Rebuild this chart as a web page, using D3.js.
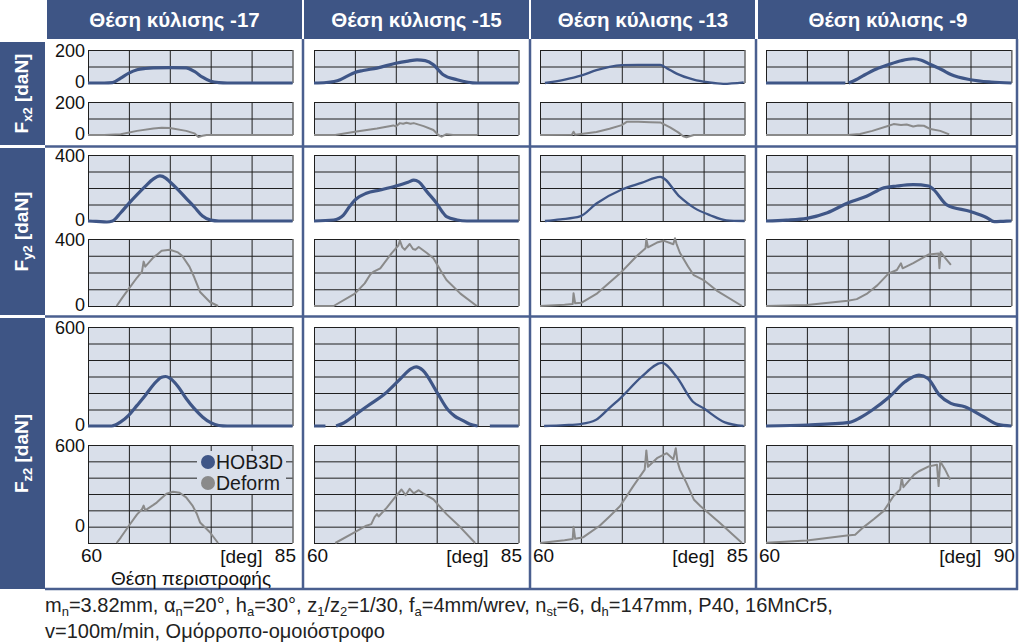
<!DOCTYPE html>
<html>
<head>
<meta charset="utf-8">
<script src="https://cdn.jsdelivr.net/npm/d3@7"></script>
<style>
  body { margin: 0; background: #fff; }
  svg { display: block; font-family: "Liberation Sans", Arial, sans-serif; }
</style>
</head>
<body>
<svg id="chart" width="1023" height="643"></svg>
<script>
// column / row labels
const columnTitles = ["Θέση κύλισης -17", "Θέση κύλισης -15", "Θέση κύλισης -13", "Θέση κύλισης -9"];
const xEnd = [85, 85, 85, 90];            // rotation angle range ends at, deg (all start at 60)
const forceNames = ["x2", "y2", "z2"];
const topDomains = [[0, 200], [0, 400], [0, 600]];       // HOB3D panels
const bottomDomains = [[0, 200], [0, 400], [-120, 600]]; // Deform panels
const topSteps = [100, 100, 100];
const bottomSteps = [100, 100, 120];
const legendNames = ["HOB3D", "Deform"];

// [deg, daN]; null = gap in the curve
const hobFx = [
  [[60,0],[62,0],[63,2],[64,30],[65,60],[66,80],[67,88],[68,92],[70,93],[72,92],[73,70],[74,35],[75,10],[76,2],[77,0],[85,0]],
  [[60,0],[61.5,3],[63.2,20],[64,40],[65,64],[66,76],[67.7,90],[70,120],[71.5,133],[72.6,140],[73.6,136],[74.6,110],[75.2,80],[75.8,50],[77.5,20],[79.9,0],[85,0]],
  [[60.6,0],[62.9,19],[65.1,46],[66.9,78],[68.5,98],[70,108],[72,110],[74.7,110],[75.5,90],[76.7,57],[78.8,21],[80.5,5],[82.4,-5],[84.9,4]],
  [[60,0],[69.7,0],null,[70.1,0],[71,20],[71.9,45],[73.5,85],[75,112],[76.5,135],[78,147],[79,138],[80.1,112],[81.5,80],[82.6,51],[85,20],[87.5,6],[90,0]]
];
const defFx = [
  [[60,0],[62,0],[64,5],[66,25],[68,40],[69,44],[70,42],[72,25],[73,10],[73.5,-12],[74,-5],[74.5,0],[85,0]],
  [[60,0],[62.6,0],[65,20],[67.7,40],[69.7,58],[70,52],[70.5,72],[70.9,68],[71.3,74],[71.8,68],[72.2,72],[73.4,54],[74.6,30],[75.2,0],[75.6,-10],[76.2,5],[77,0],[80,0]],
  [[60,0],[63.9,2],[64.1,20],[64.3,2],[66.9,18],[68.5,38],[70,60],[70.6,80],[72,80],[73.5,78],[74.7,76],[75.9,46],[76.9,16],[77.5,-8],[77.9,-14],[78.8,0],[85,0]],
  [[60,0],[70,0],[71.5,6],[73,25],[75,56],[75.6,66],[76.5,60],[77.2,64],[78,52],[78.6,58],[79.3,56],[80.1,36],[81.3,25],[82.4,4]]
];
const hobFy = [
  [[60,0],[61,-2],[62.3,-6],[63,0],[64,50],[65,107],[66,160],[67,210],[68,255],[68.8,273],[69.5,260],[70,238],[71,190],[72,137],[73,85],[74,30],[75,5],[76,0],[85,0]],
  [[60,0],[62.4,6],[63.6,36],[64.3,85],[65,127],[66.4,168],[68.1,188],[70,212],[71.5,235],[72.2,248],[72.8,238],[73.8,178],[75,107],[75.7,55],[76.2,26],[77.5,6],[78.7,0],[85,0]],
  [[60.6,0],[62.5,10],[64.9,28],[66.9,106],[70,191],[72.4,231],[74.7,268],[77.1,146],[78.8,81],[80.8,35],[82.8,4],[85,0]],
  [[60,0],[62.5,5],[65,16],[67.5,50],[70,109],[72.3,150],[74.4,201],[76,212],[78,220],[79.9,212],[80.5,190],[82.1,98],[85,57],[87,20],[87.9,-4],[89,-2],[90,0]]
];
const defFy = [
  [[63.5,0],[64.2,50],[65,104],[66,170],[66.6,205],[66.8,265],[67,235],[68,290],[68.4,305],[69,330],[70,336],[71,320],[71.5,300],[72.4,235],[73,170],[73.7,84],[74.9,24],[75.9,0]],
  [[60,0],[62.4,0],[65,74],[66.2,135],[66.9,190],[67.3,205],[68.1,225],[69.5,316],[70.3,360],[70.5,390],[70.8,350],[71.1,336],[71.7,370],[72.1,340],[72.4,336],[72.8,352],[73.8,316],[74.6,285],[75.5,210],[76.2,155],[77.9,74],[79.9,0]],
  [[60,0],[63,8],[64,12],[64.1,76],[64.3,16],[65.1,20],[66.9,72],[68.5,140],[70,205],[71.8,297],[72.9,345],[73,400],[73.2,350],[74.3,379],[75.1,390],[76.3,369],[76.5,404],[76.7,370],[77.1,318],[78.1,236],[78.8,184],[80,155],[81.6,92],[84.7,0]],
  [[60,0],[65,6],[70,31],[71.1,41],[72.3,72],[73.6,123],[75,195],[76,215],[76.5,255],[76.7,225],[78,256],[79.9,308],[81.1,314],[81.2,226],[81.35,322],[81.9,287],[82.6,246]]
];
const hobFz = [
  [[60,0],[62.9,0],[64,25],[65,66],[66,125],[67,185],[68,250],[69,296],[69.5,300],[70,290],[71,240],[72,167],[73,105],[74,55],[75,20],[76,3],[77,0],[85,0]],
  [[60,0],[61.4,0],null,[62.7,0],[63.5,15],[65,66],[66.5,120],[68.7,197],[70.4,278],[71.9,348],[72.5,358],[73.3,338],[75,207],[76.4,97],[77.2,60],[78.1,36],[79,12],[80,0],null,[81.5,0],[85,0]],
  [[60.5,0],[63,5],[65,12],[66.8,36],[68.5,110],[70,177],[72.4,298],[74.9,382],[76.7,298],[78.7,147],[80,107],[82.6,22],[84.9,0]],
  [[60,0],[65.1,6],[70.2,22],[71.5,50],[73,97],[75.1,177],[77,268],[78.7,308],[79.8,288],[81.2,187],[82.6,137],[84.3,117],[86.6,56],[88.3,10],[90,0]]
];
const defFz = [
  [[63.5,-120],[64,-80],[65,7],[66,90],[66.6,128],[66.8,155],[67,120],[68,160],[68.4,177],[69,210],[69.6,242],[70.4,256],[71.2,249],[72,215],[72.8,152],[73.3,95],[73.7,31],[74.9,-41],[75.9,-120]],
  [[62.6,-120],[65,-41],[66.4,7],[67,19],[67.4,70],[67.7,92],[67.9,75],[68.9,140],[69.7,200],[70.7,273],[71.2,232],[71.7,278],[72.2,244],[72.8,268],[73.4,242],[74.6,200],[76.2,92],[77.9,-5],[79.7,-120]],
  [[60,-120],[63,-100],[64,-90],[64.1,0],[64.3,-88],[65.3,-77],[67.3,7],[68.5,75],[69.8,152],[71.4,298],[72.8,419],[73,560],[73.2,440],[74.3,503],[75.5,540],[76.3,496],[76.6,576],[76.8,480],[77.1,419],[77.9,322],[78.8,200],[79.6,152],[82,27],[84.7,-120]],
  [[60,-118],[65,-102],[69.9,-65],[70.9,-60],[71.9,-5],[73.2,56],[74.4,116],[75.6,225],[76.4,273],[76.6,358],[76.8,290],[78.1,382],[78.7,407],[79.9,443],[80.9,455],[81.1,298],[81.3,479],[81.9,419],[82.5,346]]
];

const hob = [hobFx, hobFy, hobFz];
const def = [defFx, defFy, defFz];

// layout / style
const blue = "#3e5585";
const panelFill = "#d9dfea";
const hobColor = "#3f5687";
const defColor = "#8a8a8a";
const hobWidth = [3.2, 3.2, 2.3, 3.2];
const colX = [88, 314, 540, 766];
const pxPerDeg = 8.18;
const headerX = [[47, 302], [304, 529], [531, 755], [758, 1018]];
const rowBoxes = [[42, 145], [148, 315], [318, 589]];
const panelY = [[[50, 83], [102, 135]], [[155, 221], [239, 306]], [[327, 426], [445, 543]]];

const svg = d3.select("#chart");

// headers
headerX.forEach(([a, b], i) => {
  svg.append("rect").attr("x", a).attr("y", 0).attr("width", b - a).attr("height", 39).attr("fill", blue);
  svg.append("text").attr("x", (a + b) / 2).attr("y", 27).attr("text-anchor", "middle")
    .attr("fill", "#fff").attr("font-weight", "bold").attr("font-size", 20.5).text(columnTitles[i]);
});

// row labels
rowBoxes.forEach(([a, b], i) => {
  svg.append("rect").attr("x", 0).attr("y", a).attr("width", 45).attr("height", b - a).attr("fill", blue);
  const t = svg.append("text").attr("transform", `translate(28,${(a + b) / 2}) rotate(-90)`)
    .attr("text-anchor", "middle").attr("fill", "#fff").attr("font-weight", "bold").attr("font-size", 19);
  t.append("tspan").text("F");
  t.append("tspan").attr("dy", 4).attr("font-size", 13).text(forceNames[i]);
  t.append("tspan").attr("dy", -4).text(" [daN]");
});

// body borders
const border = svg.append("g").attr("stroke", "#4a5f8f").attr("stroke-width", 2.5);
[303, 530, 756, 1017].forEach(x => border.append("line").attr("x1", x).attr("x2", x).attr("y1", 39).attr("y2", 590));
[146.5, 316.5, 589].forEach(y => border.append("line").attr("x1", 45).attr("x2", 1018).attr("y1", y).attr("y2", y));

function panel(c, r, half) {
  const dom = half === 0 ? topDomains[r] : bottomDomains[r];
  const step = half === 0 ? topSteps[r] : bottomSteps[r];
  const [y0, y1] = panelY[r][half];
  const x0 = colX[c], w = (xEnd[c] - 60) * pxPerDeg;
  const x = d3.scaleLinear().domain([60, xEnd[c]]).range([x0, x0 + w]);
  const y = d3.scaleLinear().domain(dom).range([y1, y0]);
  const g = svg.append("g");

  g.append("rect").attr("x", x0).attr("y", y0).attr("width", w).attr("height", y1 - y0).attr("fill", panelFill);

  const gx = g.append("g").attr("transform", `translate(0,${y1})`)
    .call(d3.axisBottom(x).tickValues(d3.range(60, xEnd[c] + 1, 5)).tickSize(-(y1 - y0)).tickFormat(""));
  const gy = g.append("g").attr("transform", `translate(${x0},0)`)
    .call(d3.axisLeft(y).tickValues(d3.range(dom[0], dom[1] + 1, step)).tickSize(-w).tickFormat(""));
  [gx, gy].forEach(a => {
    a.select(".domain").remove();
    a.selectAll(".tick line").attr("stroke", "#1f1f1f");
  });

  // legend box (first column, bottom of Fz2)
  if (c === 0 && r === 2 && half === 1) {
    g.append("rect").attr("x", 197).attr("y", 451).attr("width", 89).attr("height", 43).attr("fill", panelFill);
    legendNames.forEach((n, i) => {
      g.append("circle").attr("cx", 208).attr("cy", 462 + i * 21).attr("r", 7).attr("fill", i ? defColor : hobColor);
      g.append("text").attr("x", 216).attr("y", 469 + i * 21).attr("font-size", 19.5).attr("fill", "#1a1a1a").text(n);
    });
  }

  const data = (half === 0 ? hob : def)[r][c];
  g.append("path").datum(data)
    .attr("d", d3.line().defined(d => d).x(d => x(d[0])).y(d => y(d[1]))
      .curve(half === 0 ? d3.curveMonotoneX : d3.curveLinear))
    .attr("fill", "none")
    .attr("stroke", half === 0 ? hobColor : defColor)
    .attr("stroke-width", half === 0 ? hobWidth[c] : 2)
    .attr("stroke-linejoin", "round");

  // y tick labels only in the first column
  if (c === 0) {
    const ya = g.append("g").attr("transform", `translate(${x0},0)`)
      .call(d3.axisLeft(y).tickValues([dom[1], 0]).tickSize(0).tickPadding(3));
    ya.select(".domain").remove();
    ya.selectAll("text").attr("font-size", 18).attr("font-family", null).attr("fill", "#111")
      .attr("y", d => (d === 0 ? -1 : 1));
  }

  // x labels under the last panel
  if (r === 2 && half === 1) {
    const xa = g.append("g").attr("transform", `translate(0,${y1})`)
      .call(d3.axisBottom(x).tickValues([60, xEnd[c]]).tickSize(0).tickPadding(6));
    xa.select(".domain").remove();
    xa.selectAll("text").attr("font-size", 19).attr("font-family", null).attr("fill", "#111");
    xa.selectAll(".tick").filter(d => d === 60).select("text").attr("dx", 3);
    xa.selectAll(".tick").filter(d => d !== 60).select("text").attr("text-anchor", "end").attr("dx", 3);
    g.append("text").attr("x", x0 + w - 30).attr("y", y1 + 20).attr("text-anchor", "end")
      .attr("font-size", 19).attr("fill", "#111").text("[deg]");
  }
}

for (let c = 0; c < 4; c++)
  for (let r = 0; r < 3; r++)
    for (let h = 0; h < 2; h++) panel(c, r, h);

svg.append("text").attr("x", 191).attr("y", 585).attr("text-anchor", "middle")
  .attr("font-size", 19).attr("fill", "#111").text("Θέση περιστροφής");

// footer
function rich(y, parts) {
  const t = svg.append("text").attr("x", 45).attr("y", y).attr("font-size", 20).attr("fill", "#222");
  let sub = false;
  parts.forEach((p, i) => {
    const isSub = i % 2 === 1;
    const s = t.append("tspan").text(p);
    if (isSub) s.attr("font-size", 13).attr("dy", 4);
    else if (sub) s.attr("dy", -4);
    sub = isSub;
  });
}
rich(612, ["m", "n", "=3.82mm, α", "n", "=20°, h", "a", "=30°, z", "1", "/z", "2", "=1/30, f", "a", "=4mm/wrev, n", "st", "=6, d", "h", "=147mm, P40, 16MnCr5,"]);
rich(638, ["v=100m/min, Ομόρροπο-ομοιόστροφο"]);
</script>
</body>
</html>
